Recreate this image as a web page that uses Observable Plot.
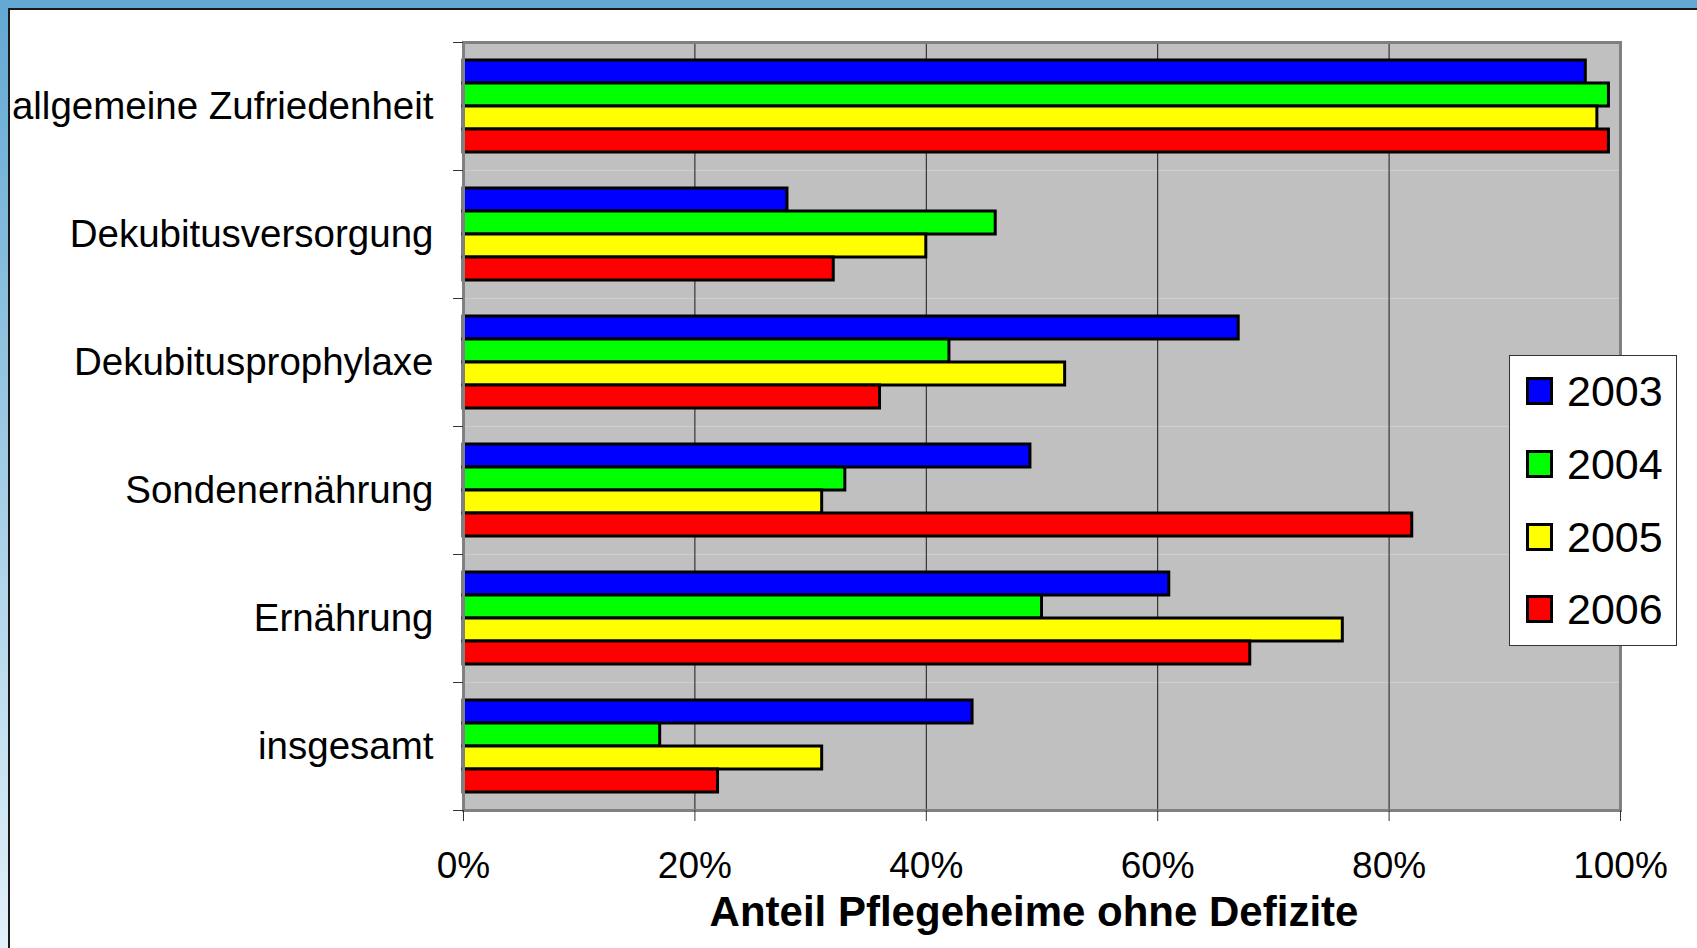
<!DOCTYPE html>
<html><head><meta charset="utf-8">
<script src="https://cdn.jsdelivr.net/npm/d3@7"></script>
<script src="https://cdn.jsdelivr.net/npm/@observablehq/plot@0.6"></script>
<style>
html,body{margin:0;padding:0}
body{width:1697px;height:948px;position:relative;overflow:hidden;background:linear-gradient(to bottom,#62a8d3 0%,#e2f1f9 100%);font-family:"Liberation Sans",Arial,sans-serif}
#panel{position:absolute;left:8px;top:8px;right:0;bottom:0;background:#fff;border-left:2px solid #1a1a1a;border-top:2px solid #1a1a1a}
#chart{position:absolute;left:0;top:0}
#legend{position:absolute;left:1509px;top:355px;width:166px;height:289px;border:1px solid #333;background:#fff}
.item{position:absolute;left:16px;height:30px;display:flex;align-items:center}
.sw{width:21px;height:22px;border:3px solid #000;box-sizing:content-box}
.lbl{margin-left:14px;font-size:43px;color:#000;line-height:30px}
</style></head>
<body>
<div id="panel"></div>
<div id="chart"></div>
<div id="legend"></div>
<script>
const categories = ["allgemeine Zufriedenheit","Dekubitusversorgung","Dekubitusprophylaxe","Sondenernährung","Ernährung","insgesamt"];
const years = ["2003","2004","2005","2006"];
const colors = ["#0000ff","#00ff00","#ffff00","#ff0000"];
const v2003 = [97,28,67,49,61,44];
const v2004 = [99,46,42,33,50,17];
const v2005 = [98,40,52,31,76,31];
const v2006 = [99,32,36,82,68,22];
const xTicks = [0,20,40,60,80,100];
const xTitle = "Anteil Pflegeheime ohne Defizite";

const series = [v2003, v2004, v2005, v2006];
const data = categories.flatMap((c, i) => years.map((y, j) => ({category: c, year: y, value: series[j][i]})));

const W = 1697, H = 948, mL = 463, mR = 77, mT = 42, mB = 138;
const bandH = (H - mT - mB) / categories.length;

const chart = Plot.plot({
  width: W, height: H,
  marginLeft: mL, marginRight: mR, marginTop: mT, marginBottom: mB,
  style: {background: "transparent", fontFamily: '"Liberation Sans", Arial, sans-serif', color: "#000", overflow: "visible"},
  x: {domain: [0, 100], axis: null},
  y: {domain: years, paddingInner: 0, paddingOuter: 0.78, axis: null},
  fy: {domain: categories, padding: 0, axis: null},
  color: {domain: years, range: colors},
  marks: [
    Plot.frame({fill: "#c0c0c0"}),
    Plot.gridX({ticks: xTicks.slice(1, -1), stroke: "#1a1a1a", strokeOpacity: 1, strokeWidth: 1}),
    Plot.barX(data, {x: "value", y: "year", fy: "category", fill: "year", stroke: "#000", strokeWidth: 3}),
    Plot.frame({facet: "super", stroke: "#808080", strokeWidth: 3}),
    Plot.axisFy({anchor: "left", tickSize: 10, fill: "none", dy: -bandH / 2, stroke: "#333", label: null}),
    Plot.axisFy({anchor: "left", tickSize: 10, fill: "none", dy: bandH / 2, stroke: "#333", label: null}),
    Plot.axisFy({anchor: "left", tickSize: 0, tickPadding: 30, fontSize: 38.5, label: null}),
    Plot.axisX({ticks: xTicks, tickFormat: d => d + "%", tickSize: 11, tickPadding: 30, fontSize: 37, label: null, stroke: "#333"}),
    Plot.text([{category: categories[categories.length - 1], t: xTitle}], {fy: "category", text: "t", frameAnchor: "bottom", lineAnchor: "middle", dy: 102, dx: -8, fontSize: 42, fontWeight: "bold"})
  ]
});
document.getElementById("chart").append(chart);

const legend = document.getElementById("legend");
const centers = [35, 108, 181, 253];
years.forEach((y, i) => {
  const item = document.createElement("div");
  item.className = "item";
  item.style.top = (centers[i] - 15) + "px";
  const sw = document.createElement("div");
  sw.className = "sw";
  sw.style.background = colors[i];
  const lbl = document.createElement("span");
  lbl.className = "lbl";
  lbl.textContent = y;
  item.append(sw, lbl);
  legend.append(item);
});
</script>
</body></html>
